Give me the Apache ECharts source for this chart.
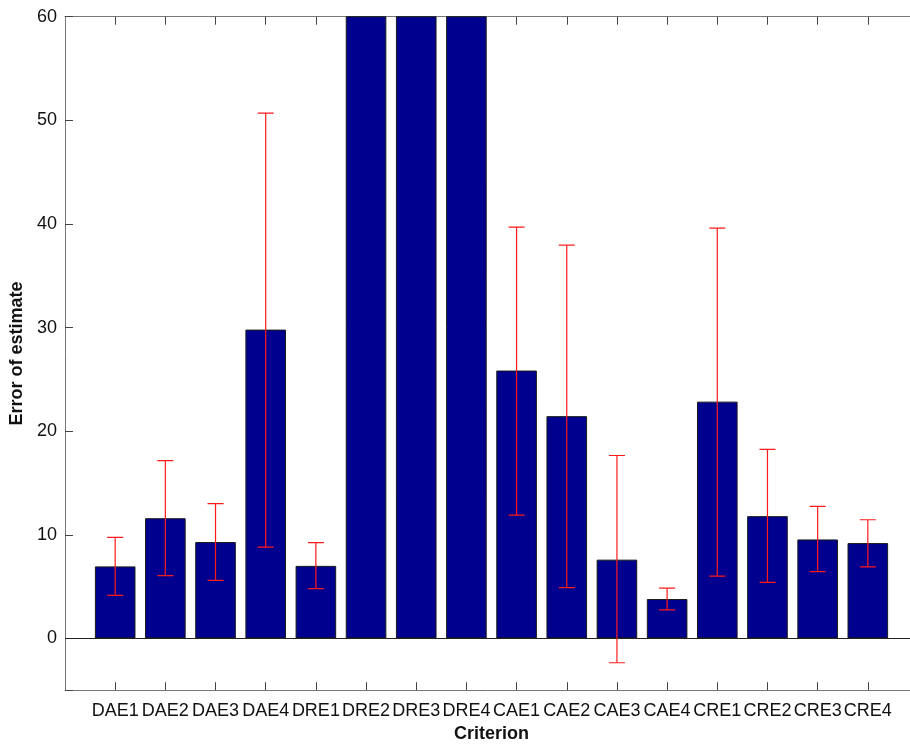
<!DOCTYPE html>
<html>
<head>
<meta charset="utf-8">
<script src="https://cdn.jsdelivr.net/npm/echarts@6/dist/echarts.min.js"></script>
<style>
html,body{margin:0;padding:0;background:#fff;overflow:hidden;}
#chart{width:910px;height:744px;}
</style>
</head>
<body>
<div id="chart"></div>
<script>
var categories = ['DAE1','DAE2','DAE3','DAE4','DRE1','DRE2','DRE3','DRE4','CAE1','CAE2','CAE3','CAE4','CRE1','CRE2','CRE3','CRE4'];
var values =     [6.95, 11.6, 9.3, 29.8, 7.0, 80, 80, 80, 25.85, 21.45, 7.6, 3.8, 22.85, 11.8, 9.55, 9.2];
var errLow =     [4.15, 6.05, 5.6, 8.8, 4.8, 65, 65, 65, 11.9, 4.9, -2.35, 2.75, 6.0, 5.4, 6.45, 6.9];
var errHigh =    [9.75, 17.15, 13.0, 50.7, 9.25, 95, 95, 95, 39.7, 37.95, 17.65, 4.85, 39.6, 18.25, 12.75, 11.45];
var yTicks = [-5, 0, 10, 20, 30, 40, 50, 60];

var barData = values.map(function(v, i){ return [i + 1, v]; });
var errData = values.map(function(v, i){ return [i + 1, errLow[i], errHigh[i]]; });

var chart = echarts.init(document.getElementById('chart'), null, {renderer: 'canvas'});
var font = '"Liberation Sans", Helvetica, Arial, sans-serif';
var axisLineColor = '#777';
var tickColor = '#444';
var catTicks = categories.map(function(c, i){ return i + 1; });

chart.setOption({
  animation: false,
  backgroundColor: '#fff',
  grid: {left: 65, top: 16.7, width: 853, height: 673.5, containLabel: false, outerBoundsMode: 'none'},
  xAxis: [{
    type: 'value', min: 0, max: 17, interval: 1, position: 'bottom',
    name: 'Criterion', nameLocation: 'middle', nameGap: 33,
    nameTextStyle: {fontFamily: font, fontSize: 18, fontWeight: 'bold', color: '#111'},
    axisLine: {show: true, onZero: false, lineStyle: {color: axisLineColor, width: 1}},
    axisTick: {show: true, inside: true, length: 8, lineStyle: {color: tickColor}, customValues: catTicks},
    axisLabel: {show: true, fontFamily: font, fontSize: 18, color: '#111', margin: 12, customValues: catTicks,
      hideOverlap: false,
      formatter: function(v){ var i = Math.round(v) - 1; return (i >= 0 && i < categories.length) ? categories[i] : ''; }},
    splitLine: {show: false}
  }, {
    type: 'value', min: 0, max: 17, interval: 1, position: 'top',
    axisLine: {show: true, onZero: false, lineStyle: {color: axisLineColor, width: 1}},
    axisTick: {show: true, inside: true, length: 8, lineStyle: {color: tickColor}, customValues: catTicks},
    axisLabel: {show: false},
    splitLine: {show: false}
  }],
  yAxis: [{
    type: 'value', min: -5, max: 60, position: 'left',
    name: 'Error of estimate', nameLocation: 'middle', nameGap: 30,
    nameTextStyle: {fontFamily: font, fontSize: 18, fontWeight: 'bold', color: '#111'},
    axisLine: {show: true, onZero: false, lineStyle: {color: axisLineColor, width: 1}},
    axisTick: {show: true, inside: true, length: 8, lineStyle: {color: tickColor}, customValues: yTicks},
    axisLabel: {show: true, fontFamily: font, fontSize: 18, color: '#111', margin: 8, customValues: yTicks,
      formatter: function(v){ return v === -5 ? '' : String(v); }},
    splitLine: {show: false}
  }],
  series: [{
    type: 'bar',
    xAxisIndex: 0, yAxisIndex: 0,
    data: barData,
    barWidth: 40.6,
    clip: true,
    itemStyle: {color: '#00008F', borderColor: '#1a1a1a', borderWidth: 1},
    markLine: {
      silent: true, symbol: 'none', label: {show: false},
      lineStyle: {color: '#222', width: 1, type: 'solid'},
      data: [{yAxis: 0}]
    },
    z: 2
  }, {
    type: 'custom',
    xAxisIndex: 0, yAxisIndex: 0,
    data: errData,
    clip: true,
    z: 5,
    renderItem: function(params, api){
      var x = api.value(0);
      var lo = api.coord([x, api.value(1)]);
      var hi = api.coord([x, api.value(2)]);
      var hw = 8;
      var style = {stroke: '#ff1a1a', lineWidth: 1.2};
      return {
        type: 'group',
        children: [
          {type: 'line', shape: {x1: lo[0], y1: lo[1], x2: hi[0], y2: hi[1]}, style: style},
          {type: 'line', shape: {x1: lo[0] - hw, y1: lo[1], x2: lo[0] + hw, y2: lo[1]}, style: style},
          {type: 'line', shape: {x1: hi[0] - hw, y1: hi[1], x2: hi[0] + hw, y2: hi[1]}, style: style}
        ]
      };
    }
  }]
});
</script>
</body>
</html>
